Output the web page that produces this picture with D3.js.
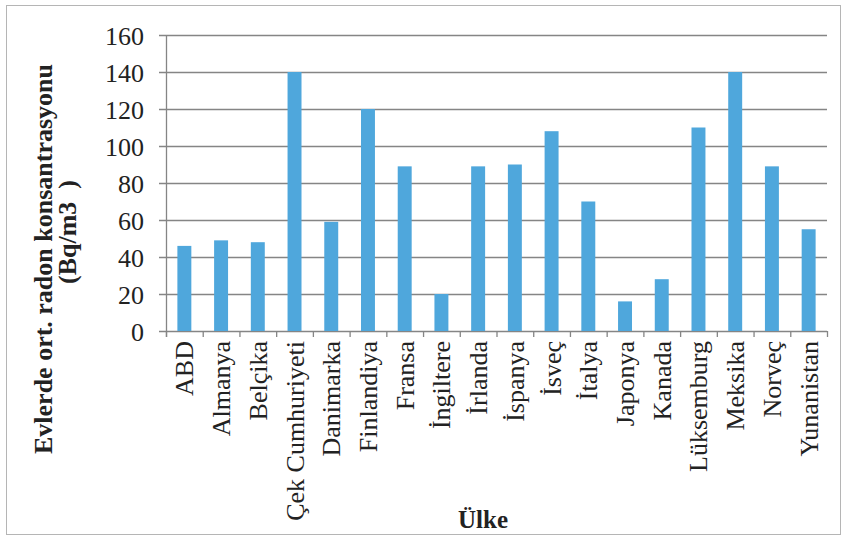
<!DOCTYPE html>
<html>
<head>
<meta charset="utf-8">
<script src="https://cdn.jsdelivr.net/npm/d3@7"></script>
<style>
  html, body { margin: 0; padding: 0; background: #fff; }
  svg text { font-family: "Liberation Serif", "Times New Roman", serif; fill: #222; }
</style>
</head>
<body>
<svg id="chart" width="846" height="540"></svg>
<script>
// Average indoor radon concentration by country (Bq/m3)
const countries = ["ABD", "Almanya", "Belçika", "Çek Cumhuriyeti", "Danimarka", "Finlandiya",
  "Fransa", "İngiltere", "İrlanda", "İspanya", "İsveç", "İtalya", "Japonya", "Kanada",
  "Lüksemburg", "Meksika", "Norveç", "Yunanistan"];
const radon = [46, 49, 48, 140, 59, 120, 89, 20, 89, 90, 108, 70, 16, 28, 110, 140, 89, 55];
const yTicks = [0, 20, 40, 60, 80, 100, 120, 140, 160];
const yTitle = ["Evlerde ort. radon konsantrasyonu", "(Bq/m3  )"];
const xTitle = "Ülke";

const svg = d3.select("#chart");
const plot = { left: 166, right: 827, top: 35, bottom: 331 };

// outer frame
svg.append("rect")
  .attr("x", 6.5).attr("y", 5.5).attr("width", 834).attr("height", 529)
  .attr("fill", "none").attr("stroke", "#b5b5b5").attr("stroke-width", 1);

const pad = 0.62;
const x = d3.scaleBand().domain(countries)
  .range([plot.left, plot.right])
  .paddingInner(pad).paddingOuter(pad / 2);
const y = d3.scaleLinear().domain([0, 160]).range([plot.bottom, plot.top]);

// horizontal gridlines with left tick marks
svg.append("g").selectAll("line").data(yTicks).join("line")
  .attr("x1", plot.left - 7).attr("x2", plot.right)
  .attr("y1", d => y(d) + 0.5).attr("y2", d => y(d) + 0.5)
  .attr("stroke", "#858585").attr("stroke-width", 1.3);

// y tick labels
svg.append("g").selectAll("text").data(yTicks).join("text")
  .attr("x", 144).attr("y", d => y(d) + 1)
  .attr("dy", "0.35em")
  .attr("text-anchor", "end")
  .attr("font-size", 26)
  .text(d => d);

// bars
svg.append("g").selectAll("rect").data(countries).join("rect")
  .attr("x", d => x(d))
  .attr("width", x.bandwidth())
  .attr("y", (d, i) => y(radon[i]))
  .attr("height", (d, i) => y(0) - y(radon[i]))
  .attr("fill", "#4fa7dc");

// vertical axis line
svg.append("line")
  .attr("x1", plot.left + 0.5).attr("x2", plot.left + 0.5)
  .attr("y1", plot.top).attr("y2", plot.bottom + 6)
  .attr("stroke", "#858585").attr("stroke-width", 1.3);

// x tick marks at category boundaries
const step = x.step();
const bounds = d3.range(countries.length + 1).map(i => plot.left + i * step);
svg.append("g").selectAll("line").data(bounds).join("line")
  .attr("x1", d => d + 0.5).attr("x2", d => d + 0.5)
  .attr("y1", plot.bottom).attr("y2", plot.bottom + 6)
  .attr("stroke", "#858585").attr("stroke-width", 1.3);

// rotated category labels
svg.append("g").selectAll("text").data(countries).join("text")
  .attr("transform", d => `translate(${x(d) + x.bandwidth() / 2 + 9},${plot.bottom + 10}) rotate(-90)`)
  .attr("text-anchor", "end")
  .attr("font-size", 26)
  .text(d => d);

// y axis title (two lines)
svg.append("text")
  .attr("transform", "translate(52,259) rotate(-90)")
  .attr("text-anchor", "middle")
  .attr("font-size", 26).attr("font-weight", "bold")
  .text(yTitle[0]);
svg.append("text")
  .attr("transform", "translate(76,232) rotate(-90)")
  .attr("text-anchor", "middle")
  .attr("font-size", 26).attr("font-weight", "bold")
  .attr("xml:space", "preserve")
  .style("white-space", "pre")
  .text(yTitle[1]);

// x axis title
svg.append("text")
  .attr("x", 483).attr("y", 528)
  .attr("text-anchor", "middle")
  .attr("font-size", 25).attr("font-weight", "bold")
  .text(xTitle);
</script>
</body>
</html>
